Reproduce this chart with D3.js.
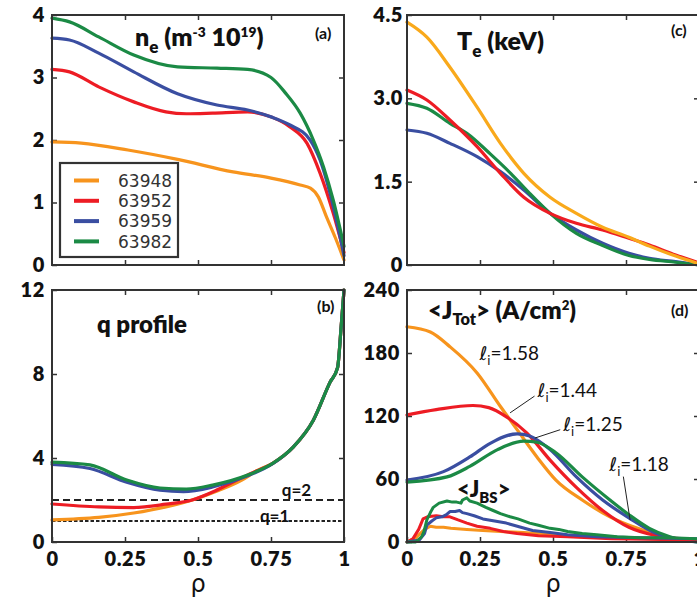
<!DOCTYPE html>
<html>
<head>
<meta charset="utf-8">
<script src="https://cdn.jsdelivr.net/npm/d3@7"></script>
<style>
  body { margin: 0; background: #fff; }
  svg { display: block; }
</style>
</head>
<body>
<svg id="fig" width="697" height="601"></svg>
<script>
// Discharges and their colours
const shots = ["63948", "63952", "63959", "63982"];
const shotColors = ["#F7941D", "#ED1C24", "#3A4EA1", "#1B8A45"];
const teColors = ["#F9A91B", "#ED1C24", "#3A4EA1", "#1B8A45"];

// Radial coordinate ticks
const rhoTicks = [0, 0.25, 0.5, 0.75, 1];
const rhoTickLabels = ["0", "0.25", "0.5", "0.75", "1"];

// (a) electron density, 10^19 m^-3, as [rho, value]
const ne63948 = [[0,1.97],[0.1,1.95],[0.26,1.84],[0.43,1.69],[0.62,1.49],[0.75,1.39],[0.85,1.28],[0.885,1.23],[0.912,1.09],[0.94,0.77],[0.97,0.44],[1.0,0.08]];
const ne63952 = [[0,3.13],[0.06,3.09],[0.16,2.85],[0.28,2.61],[0.39,2.45],[0.46,2.42],[0.55,2.43],[0.67,2.45],[0.75,2.37],[0.815,2.21],[0.873,1.95],[0.918,1.47],[0.963,0.83],[1.0,0.2]];
const ne63959 = [[0,3.63],[0.06,3.6],[0.16,3.39],[0.28,3.09],[0.43,2.74],[0.565,2.56],[0.67,2.48],[0.75,2.37],[0.815,2.24],[0.884,2.0],[0.918,1.68],[0.952,1.15],[1.0,0.15]];
const ne63982 = [[0,3.95],[0.06,3.89],[0.16,3.65],[0.28,3.36],[0.43,3.17],[0.565,3.15],[0.67,3.13],[0.75,3.0],[0.8,2.75],[0.85,2.43],[0.895,2.0],[0.93,1.57],[0.963,1.04],[1.0,0.3]];
const neTicks = [0, 1, 2, 3, 4];

// (b) safety factor
const q63948 = [[0,1.05],[0.16,1.17],[0.28,1.38],[0.39,1.67],[0.48,2.0],[0.57,2.45],[0.65,2.95],[0.7,3.38],[0.757,3.76],[0.826,4.52],[0.895,5.8],[0.952,7.6],[0.978,8.3],[0.99,10.2],[1.0,12]];
const q63952 = [[0,1.81],[0.16,1.67],[0.28,1.64],[0.39,1.8],[0.48,2.0],[0.55,2.38],[0.62,2.86],[0.7,3.38],[0.757,3.76],[0.826,4.52],[0.895,5.8],[0.952,7.6],[0.978,8.3],[0.99,10.2],[1.0,12]];
const q63959 = [[0,3.7],[0.13,3.5],[0.256,2.85],[0.37,2.47],[0.45,2.4],[0.55,2.62],[0.67,3.15],[0.757,3.74],[0.826,4.52],[0.895,5.8],[0.952,7.6],[0.978,8.3],[0.99,10.2],[1.0,12]];
const q63982 = [[0,3.8],[0.13,3.67],[0.256,2.95],[0.37,2.57],[0.46,2.52],[0.55,2.71],[0.67,3.19],[0.757,3.76],[0.826,4.52],[0.895,5.8],[0.952,7.6],[0.978,8.3],[0.99,10.2],[1.0,12]];
const qTicks = [0, 4, 8, 12];
const qRational = [2, 1];

// (c) electron temperature, keV
const te63948 = [[0,4.37],[0.068,4.1],[0.147,3.56],[0.24,2.84],[0.32,2.19],[0.4,1.65],[0.49,1.22],[0.58,0.93],[0.67,0.68],[0.76,0.5],[0.83,0.34],[0.92,0.16],[1.0,0.02]];
const te63952 = [[0,3.15],[0.068,2.97],[0.147,2.61],[0.24,2.13],[0.32,1.65],[0.4,1.22],[0.49,0.93],[0.58,0.75],[0.67,0.63],[0.76,0.48],[0.83,0.36],[0.92,0.18],[1.0,0.04]];
const te63959 = [[0,2.43],[0.068,2.37],[0.147,2.19],[0.24,1.95],[0.32,1.68],[0.4,1.35],[0.49,0.93],[0.58,0.63],[0.67,0.39],[0.76,0.21],[0.83,0.12],[0.92,0.06],[1.0,0.0]];
const te63982 = [[0,2.91],[0.068,2.82],[0.147,2.55],[0.205,2.37],[0.285,2.0],[0.355,1.65],[0.42,1.29],[0.49,0.93],[0.58,0.57],[0.67,0.35],[0.76,0.17],[0.83,0.1],[0.92,0.05],[1.0,0.0]];
const teTicks = [0, 1.5, 3.0, 4.5];
const teTickLabels = ["0", "1.5", "3.0", "4.5"];

// (d) total and bootstrap current density, A/cm^2
const jt63948 = [[0,205],[0.08,200],[0.147,186],[0.24,161],[0.32,129],[0.377,107],[0.445,81],[0.51,59],[0.6,40],[0.695,24],[0.79,13],[0.88,5],[1.0,1]];
const jt63952 = [[0,121],[0.1,126],[0.226,130],[0.28,128],[0.342,119],[0.41,104],[0.49,78],[0.58,52],[0.67,30],[0.76,14],[0.855,6],[1.0,2]];
const jt63959 = [[0,59],[0.125,67],[0.215,81],[0.285,94],[0.377,103],[0.42,101],[0.49,88],[0.58,62],[0.67,40],[0.76,23],[0.855,8],[0.94,2],[1.0,0]];
const jt63982 = [[0,57],[0.137,62],[0.215,72],[0.31,88],[0.4,96],[0.445,95],[0.51,85],[0.6,62],[0.695,40],[0.76,26],[0.83,13],[0.9,5],[1.0,0]];
const jb63948 = [[0,0],[0.03,4],[0.06,12],[0.08,15],[0.1,14],[0.125,14],[0.15,13],[0.205,12],[0.26,11],[0.32,10],[0.4,9],[0.5,7],[0.6,5],[0.7,4],[0.85,3],[1.0,2]];
const jb63952 = [[0,0],[0.02,3],[0.04,12],[0.055,22],[0.07,24],[0.1,25],[0.125,24],[0.147,24],[0.175,21],[0.205,18],[0.24,15],[0.285,13],[0.33,10],[0.377,8],[0.45,6],[0.55,5],[0.7,3],[1.0,2]];
const jb63959 = [[0,0],[0.043,2],[0.06,8],[0.068,16],[0.085,20],[0.1,23],[0.12,24],[0.135,26],[0.147,29],[0.165,29],[0.18,30],[0.19,28],[0.205,27],[0.23,25],[0.26,22],[0.3,20],[0.34,18],[0.39,14],[0.43,11],[0.49,9],[0.55,7],[0.65,5],[0.8,4],[1.0,3]];
const jb63982 = [[0,0],[0.03,0],[0.05,5],[0.058,10],[0.068,21],[0.08,28],[0.09,33],[0.11,37],[0.137,39],[0.155,38],[0.17,38],[0.185,37],[0.19,40],[0.205,42],[0.215,39],[0.24,37],[0.27,33],[0.295,30],[0.32,27],[0.353,24],[0.38,22],[0.42,18],[0.45,16],[0.49,13],[0.52,12],[0.55,10],[0.6,8],[0.65,7],[0.72,5],[0.8,4],[0.9,4],[1.0,3]];
const jTicks = [0, 60, 120, 180, 240];

// internal inductance labels: value, curve point [rho, J], label anchor [rho, J]
const liValues = ["1.58", "1.44", "1.25", "1.18"];
const liCurvePoints = [null, [0.353, 123], [0.438, 99], [0.764, 21]];
const liLabelPoints = [[0.248, 173], [0.447, 138], [0.535, 106], [0.693, 68]];

// ---------------------------------------------------------------
const svg = d3.select("#fig");
const BOLD = "Lato, 'DejaVu Sans', sans-serif";
const frameColor = "#333";

const xLeft = d3.scaleLinear().domain([0, 1]).range([52, 344]);
const xRight = d3.scaleLinear().domain([0, 1]).range([407, 699]);

const panels = {
  a: { x: xLeft,  y: d3.scaleLinear().domain([0, 4]).range([265, 15]) },
  b: { x: xLeft,  y: d3.scaleLinear().domain([0, 12]).range([542, 290]) },
  c: { x: xRight, y: d3.scaleLinear().domain([0, 4.5]).range([265, 15]) },
  d: { x: xRight, y: d3.scaleLinear().domain([0, 240]).range([542, 290]) }
};

function frame(p, yTicks, yLabels, labelPad, showX) {
  const [x0, x1] = p.x.range();
  const [y0, y1] = p.y.range();
  const g = svg.append("g");
  const styleAxis = sel => {
    sel.select(".domain").remove();
    sel.selectAll(".tick line").attr("stroke", frameColor).attr("stroke-width", 1.5);
    sel.selectAll(".tick text")
      .attr("font-family", BOLD).attr("font-weight", 800)
      .attr("font-size", 20).attr("letter-spacing", 0.6).attr("fill", "#111");
  };
  g.append("g").attr("transform", `translate(${x0},0)`)
    .call(d3.axisLeft(p.y).tickValues(yTicks).tickSize(-5).tickSizeOuter(0)
      .tickPadding(labelPad).tickFormat((d, i) => yLabels[i]))
    .call(styleAxis);
  g.append("g").attr("transform", `translate(${x1},0)`)
    .call(d3.axisRight(p.y).tickValues(yTicks.slice(1, -1)).tickSize(-5).tickSizeOuter(0).tickFormat(""))
    .call(styleAxis);
  g.append("g").attr("transform", `translate(0,${y0})`)
    .call(d3.axisBottom(p.x).tickValues(showX ? rhoTicks : rhoTicks.slice(1, -1))
      .tickSize(-5).tickSizeOuter(0).tickPadding(10)
      .tickFormat(showX ? ((d, i) => rhoTickLabels[i]) : ""))
    .call(styleAxis);
  g.append("g").attr("transform", `translate(0,${y1})`)
    .call(d3.axisTop(p.x).tickValues(rhoTicks.slice(1, -1)).tickSize(-5).tickSizeOuter(0).tickFormat(""))
    .call(styleAxis);
  return g;
}

function drawLines(p, series, colors, order, width, curve) {
  const line = d3.line().x(d => p.x(d[0])).y(d => p.y(d[1])).curve(curve);
  const g = svg.append("g");
  order.forEach(i => {
    g.append("path").attr("d", line(series[i])).attr("fill", "none")
      .attr("stroke", colors[i]).attr("stroke-width", width)
      .attr("stroke-linejoin", "round").attr("stroke-linecap", "round");
  });
}

function box(p) {
  const [x0, x1] = p.x.range();
  const [y0, y1] = p.y.range();
  svg.append("rect").attr("x", x0).attr("y", y1).attr("width", x1 - x0).attr("height", y0 - y1)
    .attr("fill", "none").attr("stroke", frameColor).attr("stroke-width", 2);
}

function panelTag(txt, x, y) {
  svg.append("text").attr("x", x).attr("y", y).text(txt)
    .attr("font-family", BOLD).attr("font-weight", 700).attr("font-size", 16).attr("fill", "#111");
}

// panel frames with ticks
frame(panels.a, neTicks, neTicks.map(String), 7, false);
frame(panels.b, qTicks, qTicks.map(String), 7, true);
frame(panels.c, teTicks, teTickLabels, 4, false);
frame(panels.d, jTicks, jTicks.map(String), 7, true);

// (a) density
drawLines(panels.a, [ne63948, ne63952, ne63959, ne63982], shotColors, [0, 1, 2, 3], 3.2, d3.curveMonotoneX);

// (b) q profile with rational surfaces
const pb = panels.b;
svg.append("line").attr("x1", pb.x(0)).attr("x2", pb.x(1)).attr("y1", pb.y(qRational[0])).attr("y2", pb.y(qRational[0]))
  .attr("stroke", "#222").attr("stroke-width", 1.8).attr("stroke-dasharray", "7,4");
svg.append("line").attr("x1", pb.x(0)).attr("x2", pb.x(1)).attr("y1", pb.y(qRational[1])).attr("y2", pb.y(qRational[1]))
  .attr("stroke", "#222").attr("stroke-width", 1.8).attr("stroke-dasharray", "3.5,2");
drawLines(pb, [q63948, q63952, q63959, q63982], shotColors, [0, 1, 2, 3], 3.2, d3.curveMonotoneX);
svg.append("text").attr("x", pb.x(0.787)).attr("y", pb.y(qRational[0]) - 4).text("q=" + qRational[0])
  .attr("font-family", BOLD).attr("font-weight", 700).attr("font-size", 17).attr("fill", "#111");
svg.append("text").attr("x", pb.x(0.712)).attr("y", pb.y(qRational[1]) + 1).text("q=" + qRational[1])
  .attr("font-family", BOLD).attr("font-weight", 700).attr("font-size", 17).attr("fill", "#111");

// (c) temperature
drawLines(panels.c, [te63948, te63952, te63959, te63982], teColors, [2, 3, 1, 0], 3.2, d3.curveMonotoneX);

// (d) current density profiles
const pd = panels.d;
drawLines(pd, [jt63948, jt63952, jt63959, jt63982], shotColors, [0, 1, 2, 3], 3.2, d3.curveMonotoneX);
drawLines(pd, [jb63948, jb63952, jb63959, jb63982], shotColors, [0, 1, 2, 3], 3, d3.curveLinear);

// li annotations with leader lines
liValues.forEach((v, i) => {
  const [lr, lj] = liLabelPoints[i];
  const tx = pd.x(lr), ty = pd.y(lj);
  if (liCurvePoints[i]) {
    const [cr, cj] = liCurvePoints[i];
    const sx = i === 3 ? tx + 14 : tx - 3;
    const sy = i === 3 ? ty + 6 : ty - 1;
    svg.append("line").attr("x1", sx).attr("y1", sy).attr("x2", pd.x(cr)).attr("y2", pd.y(cj))
      .attr("stroke", "#222").attr("stroke-width", 1);
  }
  const t = svg.append("text").attr("x", tx).attr("y", ty)
    .attr("font-family", "Lato, 'DejaVu Sans', sans-serif").attr("font-size", 19).attr("fill", "#111");
  t.append("tspan").attr("font-family", "'DejaVu Sans', sans-serif").attr("font-style", "italic").text("ℓ");
  t.append("tspan").attr("font-size", 13).attr("dy", 5).text("i");
  t.append("tspan").attr("dy", -5).text("=" + v);
});

// frames drawn over the curves
Object.values(panels).forEach(box);

// legend
const legend = svg.append("g");
legend.append("rect").attr("x", 60).attr("y", 163).attr("width", 118).attr("height", 94)
  .attr("fill", "#fff").attr("stroke", frameColor).attr("stroke-width", 2.2);
shots.forEach((s, i) => {
  const yy = 180.5 + i * 20.3;
  legend.append("line").attr("x1", 74).attr("x2", 99).attr("y1", yy).attr("y2", yy)
    .attr("stroke", shotColors[i]).attr("stroke-width", 4);
  legend.append("text").attr("x", 118).attr("y", yy).attr("dy", "0.36em").text(s)
    .attr("font-family", "'DejaVu Sans', sans-serif").attr("font-size", 17).attr("fill", "#333");
});

// titles
function title(x, y, parts, size) {
  const t = svg.append("text").attr("x", x).attr("y", y)
    .attr("font-family", BOLD).attr("font-weight", 800).attr("font-size", size).attr("fill", "#111");
  parts.forEach(([txt, kind]) => {
    const sp = t.append("tspan").text(txt);
    if (kind === "sub") sp.attr("font-size", size * 0.68).attr("dy", size * 0.26);
    if (kind === "sup") sp.attr("font-size", size * 0.55).attr("dy", -size * 0.38);
    if (kind === "back-sub") sp.attr("dy", -size * 0.26);
    if (kind === "back-sup") sp.attr("dy", size * 0.38);
  });
}
title(135, 46, [["n"], ["e", "sub"], [" (m", "back-sub"], ["-3", "sup"], [" 10", "back-sup"], ["19", "sup"], [")", "back-sup"]], 25);
title(457, 50, [["T"], ["e", "sub"], [" (keV)", "back-sub"]], 25);
title(97, 333, [["q profile"]], 24);
title(428, 319, [["<J"], ["Tot", "sub"], ["> (A/cm", "back-sub"], ["2", "sup"], [")", "back-sup"]], 24);
title(457, 497, [["<J"], ["BS", "sub"], [">", "back-sub"]], 22);

panelTag("(a)", 315, 39);
panelTag("(b)", 317, 312);
panelTag("(c)", 671, 36);
panelTag("(d)", 671, 316);

// rho axis titles
[xLeft, xRight].forEach(xs => {
  svg.append("text").attr("x", xs(0.5)).attr("y", 592).attr("text-anchor", "middle").text("ρ")
    .attr("font-family", "'DejaVu Sans', sans-serif").attr("font-size", 24).attr("fill", "#111");
});
</script>
</body>
</html>
